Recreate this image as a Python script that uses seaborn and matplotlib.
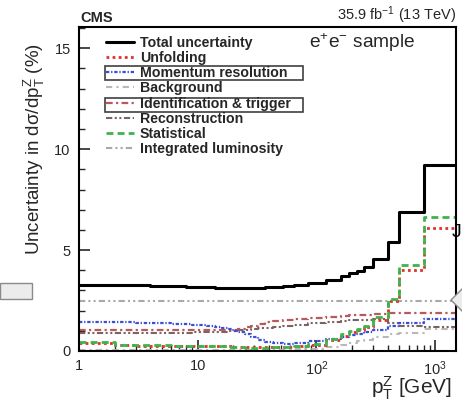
import matplotlib
matplotlib.use("Agg")
import matplotlib.pyplot as plt
import seaborn as sns
import numpy as np
import pandas as pd
from matplotlib.patches import Rectangle, Polygon
from matplotlib.ticker import FixedLocator, FixedFormatter, NullFormatter

# ---- data ----
edges = [1, 2, 3, 4, 5, 6, 7, 8, 9, 10, 11, 12, 13, 14, 16, 18, 20, 22, 25, 28,
         32, 37, 43, 52, 65, 85, 120, 160, 190, 220, 250, 300, 400, 500, 800, 1500]
total = [3.28, 3.27, 3.26, 3.24, 3.22, 3.21, 3.20, 3.19, 3.18, 3.17, 3.16, 3.15, 3.15,
         3.14, 3.13, 3.12, 3.11, 3.11, 3.11, 3.12, 3.13, 3.15, 3.18, 3.22, 3.27, 3.35,
         3.52, 3.70, 3.85, 3.98, 4.14, 4.55, 5.40, 6.90, 9.20]
unfolding = [0.42, 0.28, 0.27, 0.27, 0.26, 0.26, 0.26, 0.26, 0.26, 0.27, 0.27, 0.27, 0.27,
             0.26, 0.25, 0.24, 0.22, 0.20, 0.19, 0.18, 0.18, 0.19, 0.20, 0.22, 0.24, 0.32,
             0.55, 0.75, 0.92, 1.05, 1.20, 1.55, 2.50, 4.00, 6.08]
momentum = [1.45, 1.42, 1.40, 1.38, 1.37, 1.36, 1.35, 1.33, 1.31, 1.29, 1.27, 1.25, 1.23,
            1.19, 1.13, 1.07, 1.00, 0.93, 0.82, 0.68, 0.55, 0.45, 0.38, 0.35, 0.40, 0.50,
            0.60, 0.70, 0.78, 0.85, 0.92, 1.05, 1.25, 1.40, 1.60]
background = [0.05, 0.05, 0.05, 0.05, 0.05, 0.05, 0.05, 0.05, 0.05, 0.05, 0.05, 0.05, 0.05,
              0.05, 0.05, 0.05, 0.05, 0.05, 0.05, 0.05, 0.05, 0.05, 0.05, 0.06, 0.08, 0.12,
              0.20, 0.30, 0.40, 0.50, 0.55, 0.70, 0.85, 0.90, 1.10]
idtrigger = [1.04, 1.04, 1.04, 1.04, 1.03, 1.03, 1.03, 1.03, 1.03, 1.02, 1.02, 1.02, 1.02,
             1.02, 1.02, 1.03, 1.05, 1.10, 1.18, 1.26, 1.35, 1.42, 1.48, 1.53, 1.57, 1.61,
             1.67, 1.72, 1.76, 1.78, 1.80, 1.85, 1.88, 1.88, 1.88]
reconstruction = [0.88, 0.88, 0.89, 0.89, 0.90, 0.90, 0.91, 0.91, 0.92, 0.92, 0.93, 0.93, 0.94,
                  0.95, 0.96, 0.98, 1.00, 1.02, 1.05, 1.08, 1.12, 1.16, 1.20, 1.25, 1.30, 1.37,
                  1.42, 1.48, 1.52, 1.55, 1.55, 1.58, 1.40, 1.25, 1.20]
statistical = [0.45, 0.30, 0.29, 0.28, 0.28, 0.27, 0.27, 0.27, 0.27, 0.27, 0.27, 0.27, 0.26,
               0.25, 0.24, 0.22, 0.20, 0.18, 0.17, 0.16, 0.16, 0.17, 0.18, 0.20, 0.23, 0.33,
               0.60, 0.82, 0.98, 1.10, 1.25, 1.70, 2.60, 4.25, 6.63]
luminosity = [2.5] * 35

series_names = ["Total uncertainty", "Unfolding", "Momentum resolution", "Background",
                "Identification & trigger", "Reconstruction", "Statistical",
                "Integrated luminosity"]
series_vals = [total, unfolding, momentum, background, idtrigger, reconstruction,
               statistical, luminosity]

styles = {
    "Total uncertainty": dict(color="black", lw=2.2, ls="-"),
    "Unfolding": dict(color="#e3302b", lw=2.0, ls=(0, (1, 1.2))),
    "Momentum resolution": dict(color="#3a4fd6", lw=1.6, ls=(0, (1.5, 0.8, 0.6, 0.8))),
    "Background": dict(color="#b8b8b8", lw=1.5, ls=(0, (3, 2, 1, 2))),
    "Identification & trigger": dict(color="#b65a5c", lw=1.6, ls=(0, (3, 1.5, 1, 1.5))),
    "Reconstruction": dict(color="#7d6262", lw=1.5, ls=(0, (3, 1.2, 1, 1.2, 1, 1.2))),
    "Statistical": dict(color="#3db34a", lw=2.0, ls=(0, (2.5, 1.5))),
    "Integrated luminosity": dict(color="#a9a9a9", lw=1.5, ls=(0, (3, 1.5, 1, 1.5, 1, 1.5))),
}

# ---- style ----
sns.set_style("ticks")
plt.rcParams["font.family"] = ["Liberation Sans", "DejaVu Sans"]
plt.rcParams["mathtext.fontset"] = "custom"
plt.rcParams["mathtext.rm"] = "Liberation Sans"
plt.rcParams["mathtext.it"] = "Liberation Sans:italic"
plt.rcParams["mathtext.bf"] = "Liberation Sans:bold"

W, H = 462, 401
fig = plt.figure(figsize=(W / 100, H / 100), dpi=100)
ax = fig.add_axes([79 / W, 1 - 351 / H, (456 - 79) / W, (351 - 27) / H])

order_draw = ["Integrated luminosity", "Background", "Reconstruction", "Identification & trigger",
              "Momentum resolution", "Unfolding", "Statistical", "Total uncertainty"]
handles = {}
for name in order_draw:
    vals = series_vals[series_names.index(name)]
    df = pd.DataFrame({"pt": edges, "unc": list(vals) + [vals[-1]]})
    st = styles[name]
    sns.lineplot(data=df, x="pt", y="unc", ax=ax, estimator=None, sort=False,
                 drawstyle="steps-post", color=st["color"], linewidth=st["lw"],
                 linestyle=st["ls"], label=name)
    handles[name] = ax.get_lines()[-1]

ax.set_xscale("log")
ax.set_xlim(1, 1500)
ax.set_ylim(0, 16.05)

for sp in ax.spines.values():
    sp.set_linewidth(1.5)
    sp.set_color("black")

ax.xaxis.set_major_locator(FixedLocator([1, 10, 100, 1000]))
ax.xaxis.set_major_formatter(FixedFormatter(["1", "10", "$10^{2}$", "$10^{3}$"]))
minors = [m * d for d in [1, 10, 100, 1000] for m in range(2, 10) if m * d < 1500]
ax.xaxis.set_minor_locator(FixedLocator(minors))
ax.xaxis.set_minor_formatter(NullFormatter())
ax.yaxis.set_major_locator(FixedLocator([0, 5, 10, 15]))
ax.yaxis.set_minor_locator(FixedLocator([i for i in range(0, 17) if i % 5 != 0]))
ax.tick_params(axis="both", which="major", direction="in", length=8, width=1.2,
               labelsize=10.5, top=False, right=False)
ax.tick_params(axis="both", which="minor", direction="in", length=4.5, width=1.0,
               top=False, right=False)
ax.tick_params(axis="x", which="major", pad=6)
ax.tick_params(axis="y", which="major", pad=6)

ax.set_xlabel("p$_{\\mathrm{T}}^{\\mathrm{Z}}$ [GeV]", fontsize=15, ha="right")
ax.xaxis.set_label_coords(0.988, -0.072)
ax.set_ylabel("Uncertainty in dσ/dp$_{\\mathrm{T}}^{\\mathrm{Z}}$ (%)", fontsize=13.5)
ax.yaxis.set_label_coords(-0.085, 0.623)

# legend
leg_handles = [handles[n] for n in series_names]
leg = fig.legend(leg_handles, series_names, loc="upper left",
                 bbox_to_anchor=(106 / W, 1 - 35.5 / H), frameon=False,
                 prop=dict(family="Liberation Sans", weight="bold", size=10.2),
                 handlelength=2.0, handletextpad=0.4, labelspacing=0.09,
                 borderpad=0, borderaxespad=0)
if ax.get_legend() is not None:
    ax.get_legend().remove()

# boxes around two legend entries
for y0 in (66, 98):
    fig.patches.append(Rectangle((105 / W, 1 - (y0 + 14) / H), 198 / W, 14 / H,
                                 transform=fig.transFigure, fill=False,
                                 edgecolor="#404040", linewidth=1.2))

fig.text(80 / W, 1 - 18 / H, "CMS", fontsize=10.5, fontweight="bold", va="center", ha="left")
fig.text(456 / W, 1 - 15 / H, "35.9 fb$^{-1}$ (13 TeV)", fontsize=10.5, va="center", ha="right")
fig.text(309 / W, 1 - 43 / H, "e$^{+}$e$^{-}$ sample", fontsize=13.8, va="center", ha="left")

# stray decorations at the edges
fig.patches.append(Rectangle((0, 1 - 299 / H), 32 / W, 16 / H, transform=fig.transFigure,
                             facecolor="#ececec", edgecolor="#8a8a8a", linewidth=1.0))
fig.patches.append(Polygon([(451 / W, 1 - 300 / H), (463 / W, 1 - 288 / H),
                            (463 / W, 1 - 312 / H)], closed=True, transform=fig.transFigure,
                           facecolor="#ececec", edgecolor="#8a8a8a", linewidth=1.0))
fig.text(452 / W, 1 - 232 / H, "J", fontsize=14, va="center", ha="left", color="black")

fig.savefig("out.png", dpi=100)
